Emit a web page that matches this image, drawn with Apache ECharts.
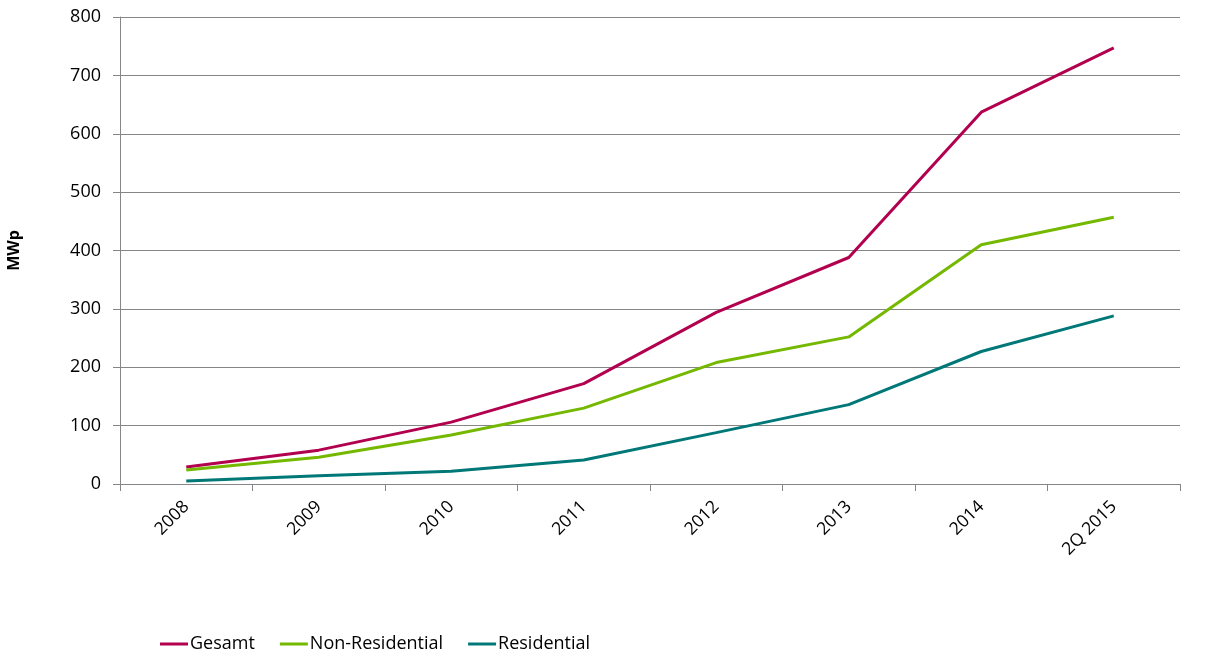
<!DOCTYPE html>
<html>
<head>
<meta charset="utf-8">
<script src="https://cdn.jsdelivr.net/npm/echarts@6/dist/echarts.min.js"></script>
<style>html,body{margin:0;padding:0;background:#fff}#c{width:1208px;height:663px}</style>
</head>
<body>
<div id="c"></div>
<script>
const categories = ['2008','2009','2010','2011','2012','2013','2014','2Q 2015'];
const gesamt = [29, 58, 106, 172, 294, 388, 637, 747];
const nonResidential = [24, 46, 84, 130, 208, 252, 410, 457];
const residential = [5, 14, 22, 41, 88, 136, 227, 288];
const yTicks = {min: 0, max: 800, interval: 100};

const font = 'Open Sans';
const chart = echarts.init(document.getElementById('c'));
const mk = (name, data, color) => ({
  name, type: 'line', data, symbol: 'none', smooth: false,
  lineStyle: {color, width: 3}, itemStyle: {color}
});
chart.setOption({
  animation: false,
  textStyle: {fontFamily: font},
  grid: {left: 120, right: 28, top: 17, bottom: 179, containLabel: false, outerBoundsMode: 'none'},
  legend: {
    left: 155, bottom: 5, itemWidth: 28, itemHeight: 3, itemGap: 25,
    icon: 'rect',
    textStyle: {fontFamily: font, fontSize: 18, color: '#000', padding: [0,0,0,-3]},
    data: ['Gesamt','Non-Residential','Residential']
  },
  xAxis: {
    type: 'category', data: categories, boundaryGap: true,
    axisLine: {lineStyle: {color: '#868686', width: 1}},
    axisTick: {show: true, length: 7, lineStyle: {color: '#868686'}},
    axisLabel: {rotate: 45, fontFamily: font, fontSize: 17.5, color: '#000', margin: 20, interval: 0},
    splitLine: {show: false}
  },
  yAxis: {
    type: 'value', min: yTicks.min, max: yTicks.max, interval: yTicks.interval,
    name: 'MWp', nameLocation: 'middle', nameGap: 98, nameRotate: 90,
    nameTextStyle: {fontFamily: font, fontSize: 16, fontWeight: 'bold', color: '#000'},
    axisLine: {show: true, lineStyle: {color: '#868686'}},
    axisTick: {show: true, length: 7, lineStyle: {color: '#868686'}},
    axisLabel: {fontFamily: font, fontSize: 18, color: '#000', margin: 19},
    splitLine: {show: true, lineStyle: {color: '#868686', width: 1}}
  },
  series: [
    mk('Gesamt', gesamt, '#B2004F'),
    mk('Non-Residential', nonResidential, '#74B800'),
    mk('Residential', residential, '#007878')
  ]
});
</script>
</body>
</html>
